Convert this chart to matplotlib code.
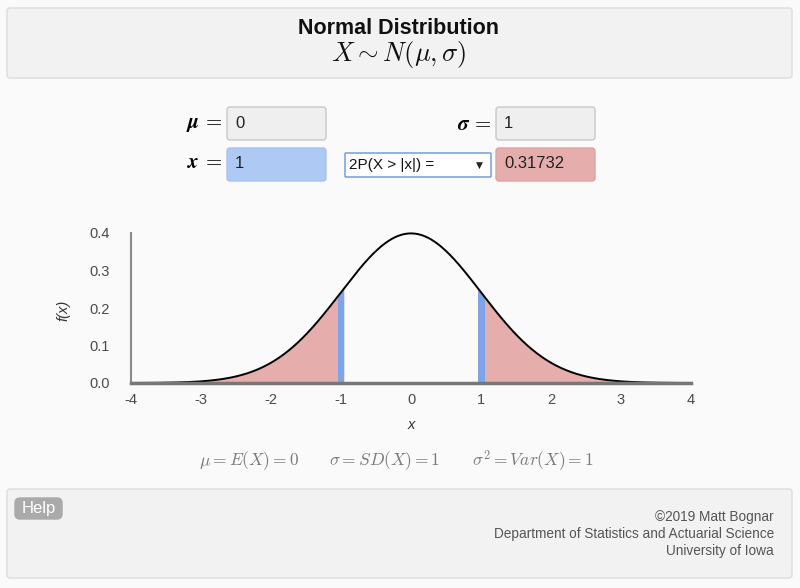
#!/usr/bin/env python3
"""Normal distribution calculator screen"""

import numpy as np
import matplotlib.pyplot as plt
from matplotlib.patches import FancyBboxPatch

plt.rcParams['font.family'] = ['Liberation Sans', 'DejaVu Sans']
plt.rcParams['axes.unicode_minus'] = False

# values shown on the page
mu = 0
sigma = 1
x_val = 1
prob = 0.31732
prob_label = '2P(X > |x|) ='
x_ticks = [-4, -3, -2, -1, 0, 1, 2, 3, 4]
y_ticks = [0.0, 0.1, 0.2, 0.3, 0.4]
footer_lines = ['\u00a92019 Matt Bognar',
                'Department of Statistics and Actuarial Science',
                'University of Iowa']

RED = '#e6adad'
BLUE = '#7ea5e6'


def box(ax, x, y, w, h, fc, ec, r=3, lw=1.0):
  p = FancyBboxPatch((x, y), w, h, boxstyle='round,pad=0,rounding_size=%s' % r,
                     fc=fc, ec=ec, lw=lw)
  ax.add_patch(p)


fig = plt.figure(figsize=(8, 5.88), dpi=100, facecolor='#fafafa')

# page layer in pixel coords
bg = fig.add_axes([0, 0, 1, 1], zorder=0)
bg.set_xlim(0, 800)
bg.set_ylim(588, 0)
bg.axis('off')

box(bg, 7, 8, 785, 70, '#f2f2f2', '#dcdcdc')
bg.text(399, 29, 'Normal Distribution', ha='center', va='center',
        fontsize=15.5, fontweight='bold', color='#111')
bg.text(399, 55, r'$X \sim N(\mu, \sigma)$', ha='center', va='center',
        fontsize=19, math_fontfamily='cm', color='#111')

# inputs
bg.text(222, 124, r'$\boldsymbol{\mu}\,=$', ha='right', va='center',
        fontsize=15, math_fontfamily='cm')
box(bg, 227, 107, 99, 33, '#efefef', '#c8c8c8')
bg.text(235, 124, str(mu), va='center', fontsize=12, color='#222')

bg.text(491, 124, r'$\boldsymbol{\sigma}\,=$', ha='right', va='center',
        fontsize=15, math_fontfamily='cm')
box(bg, 496, 107, 99, 33, '#efefef', '#c8c8c8')
bg.text(504, 124, str(sigma), va='center', fontsize=12, color='#222')

bg.text(222, 163, r'$\boldsymbol{x}\,=$', ha='right', va='center',
        fontsize=15, math_fontfamily='cm')
box(bg, 227, 148, 99, 33, '#aecaf4', '#a9c2e8')
bg.text(235, 164, str(x_val), va='center', fontsize=12, color='#222')

box(bg, 345, 153, 146, 24, 'white', '#6f93c7', r=1)
bg.text(349, 165, prob_label, va='center', fontsize=11, color='#111')
bg.text(479, 165, '\u25bc', ha='center', va='center', fontsize=6.5,
        color='#222', family=['DejaVu Sans'])

box(bg, 496, 148, 99, 33, RED, '#dba3a3')
bg.text(504, 164, '%.5f' % prob, va='center', fontsize=12, color='#222')

# summary line
summary = [(249, r'$\mu = E(X) = %d$' % mu),
           (385, r'$\sigma = SD(X) = %d$' % sigma),
           (533, r'$\sigma^2 = Var(X) = %d$' % (sigma ** 2))]
for sx, s in summary:
  bg.text(sx, 461, s, ha='center', va='center', fontsize=12.5,
          math_fontfamily='cm', color='#7a7a7a')

# footer
box(bg, 7, 489, 785, 89, '#f2f2f2', '#dcdcdc')
box(bg, 15, 498, 47, 21, '#aaaaaa', '#aaaaaa', r=5)
bg.text(38.5, 508.5, 'Help', ha='center', va='center', fontsize=12,
        color='white')
for i, line in enumerate(footer_lines):
  bg.text(774, 517 + 17 * i, line, ha='right', va='center', fontsize=9.8,
          color='#555')

# chart
ax = fig.add_axes([131 / 800, 1 - 383 / 588, 560 / 800, 150 / 588], zorder=1)
ax.patch.set_alpha(0)

xs = np.linspace(x_ticks[0], x_ticks[-1], 801)
pdf = np.exp(-0.5 * ((xs - mu) / sigma) ** 2) / (sigma * np.sqrt(2 * np.pi))

half = 0.05
lo, hi = mu - x_val - half, mu + x_val + half
ax.fill_between(xs, pdf, where=xs <= lo + 1e-9, color=RED, lw=0)
ax.fill_between(xs, pdf, where=xs >= hi - 1e-9, color=RED, lw=0)
ax.fill_between(xs, pdf, where=(xs >= lo) & (xs <= lo + 2 * half),
                color=BLUE, lw=0)
ax.fill_between(xs, pdf, where=(xs >= hi - 2 * half) & (xs <= hi),
                color=BLUE, lw=0)
ax.plot(xs, pdf, color='black', lw=1.4, clip_on=False)

ax.set_xlim(x_ticks[0], x_ticks[-1])
ax.set_ylim(0, 0.4)
ax.set_xticks(x_ticks)
ax.set_xticklabels([str(t) for t in x_ticks])
ax.set_yticks(y_ticks)
ax.set_yticklabels(['%.1f' % t for t in y_ticks])
ax.tick_params(length=0, labelsize=10.5, colors='#4a4a4a')
ax.tick_params(axis='y', pad=15)
ax.tick_params(axis='x', pad=7)
for s in ['top', 'right']:
  ax.spines[s].set_visible(False)
ax.spines['left'].set_color('#8a8a8a')
ax.spines['left'].set_linewidth(1.5)
ax.spines['bottom'].set_color('#777')
ax.spines['bottom'].set_linewidth(2.5)

ax.set_xlabel('x', fontsize=10.5, fontstyle='italic', color='#333')
ax.xaxis.set_label_coords(0.5, -0.233)
ax.set_ylabel('f(x)', fontsize=10.5, fontstyle='italic', color='#333')
ax.yaxis.set_label_coords(-0.108, 0.487)

fig.savefig('out.png', dpi=100, facecolor=fig.get_facecolor())
